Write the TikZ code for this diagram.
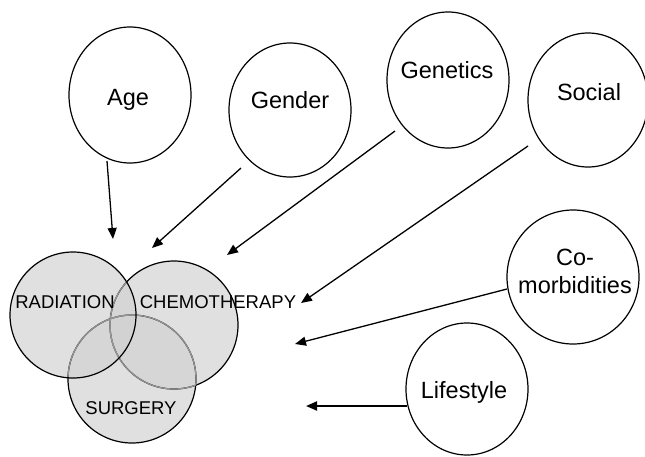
\documentclass[tikz,border=0pt]{standalone}
\usepackage{fontspec}
\setmainfont{Liberation Sans}
\usetikzlibrary{arrows.meta}
\definecolor{venn}{RGB}{209,209,209}
\definecolor{innerline}{RGB}{150,150,150}
\tikzset{
  oval/.style={line width=1.2pt},
  lbl/.style={font=\fontsize{23.5}{28}\selectfont, align=center, inner sep=0pt},
  vlbl/.style={font=\fontsize{18.5}{21}\selectfont, inner sep=0pt},
  arr/.style={line width=1.3pt, -{Triangle[length=11pt,width=9pt]}},
  vfill/.style={fill=venn, fill opacity=0.68},
  vline/.style={line width=1.2pt},
  vinner/.style={innerline, line width=1.2pt},
}
\begin{document}
\begin{tikzpicture}[x=1pt,y=-1pt]
\useasboundingbox (0,0) rectangle (645,456);

% factor ellipses
\draw[oval] (130,95) ellipse [x radius=61, y radius=68];
\draw[oval] (290,110) ellipse [x radius=61, y radius=67];
\draw[oval] (448,80) ellipse [x radius=61, y radius=68];
\draw[oval] (588,100) ellipse [x radius=60, y radius=67];
\draw[oval] (573,277) ellipse [x radius=66, y radius=67];
\draw[oval] (467,389) ellipse [x radius=61, y radius=66];

\node[lbl] (age) at (128,100) {Age};
\node[lbl] (gender) at (290,100) {Gender};
\node[lbl] (genetics) at (447,70) {Genetics};
\node[lbl] (social) at (589,92) {Social};
\node[lbl] (como) at (575,271) {Co-\\morbidities};
\node[lbl] (life) at (464,392) {Lifestyle};

% treatment circles
\fill[vfill] (174,325) circle (64);
\fill[vfill] (132,379) circle (64);
\fill[vfill] (73,315) circle (63);
\draw[vline] (174,325) circle (64);
\draw[vline] (132,379) circle (64);
\begin{scope}
  \clip (73,315) circle (63);
  \draw[vinner] (174,325) circle (64);
  \draw[vinner] (132,379) circle (64);
\end{scope}
\begin{scope}
  \clip (132,379) circle (64);
  \draw[vinner] (174,325) circle (64);
\end{scope}
\begin{scope}
  \clip (174,325) circle (64);
  \draw[vinner] (132,379) circle (64);
\end{scope}
\draw[vline] (73,315) circle (63);

\node[vlbl] (rad) at (65,302) {RADIATION};
\node[vlbl] (chemo) at (218,302) {CHEMOTHERAPY};
\node[vlbl] (surg) at (131,408) {SURGERY};

% influence arrows
\coordinate (ageS) at (107,161);
\coordinate (ageT) at (113,239);
\coordinate (genS) at (241,168);
\coordinate (genT) at (152,248);
\coordinate (gnsS) at (395,131);
\coordinate (gnsT) at (227,255);
\coordinate (socS) at (528,146);
\coordinate (socT) at (301,303);
\coordinate (comS) at (507,289);
\coordinate (comT) at (295,344);
\coordinate (lifS) at (407,406);
\coordinate (lifT) at (306,406);
\draw[arr] (ageS) -- (ageT);
\draw[arr] (genS) -- (genT);
\draw[arr] (gnsS) -- (gnsT);
\draw[arr] (socS) -- (socT);
\draw[arr] (comS) -- (comT);
\draw[arr, line width=2pt] (lifS) -- (lifT);
\end{tikzpicture}
\end{document}
